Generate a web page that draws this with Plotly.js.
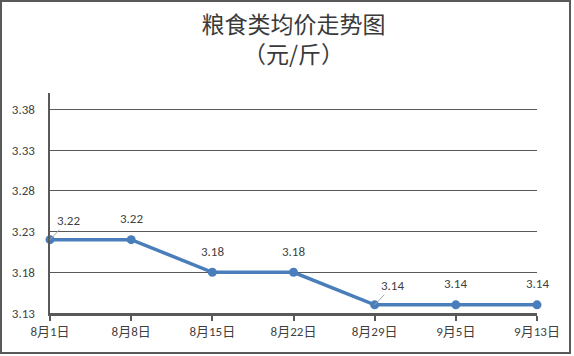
<!DOCTYPE html>
<html>
<head>
<meta charset="utf-8">
<script src="https://cdn.plot.ly/plotly-3.0.1.min.js"></script>
<style>
html,body{margin:0;padding:0;background:#fff;}
#wrap{position:relative;width:574px;height:356px;}
#chart{width:574px;height:356px;}
#frame{position:absolute;left:0;top:0;width:571px;height:354px;box-sizing:border-box;border:2px solid #595959;pointer-events:none;}
</style>
</head>
<body>
<div id="wrap"><div id="chart"></div><div id="frame"></div></div>
<script>
const categories = ['8月1日','8月8日','8月15日','8月22日','8月29日','9月5日','9月13日'];
const prices = [3.22, 3.22, 3.18, 3.18, 3.14, 3.14, 3.14];
const labelText = ['3.22','3.22','3.18','3.18','3.14','3.14','3.14'];
const yTicks = [3.13, 3.18, 3.23, 3.28, 3.33, 3.38];
const leaderIdx = [0, 4];

const txtColor = '#404040';
const fontFam = 'Calibri, Carlito, "Liberation Sans", "Noto Sans CJK SC", sans-serif';

const trace = {
  x: categories.map((c,i)=>i),
  y: prices,
  type: 'scatter',
  mode: 'lines+markers',
  line: {color: '#4A7EBB', width: 3.5},
  marker: {color: '#4A7EBB', size: 9},
  hoverinfo: 'skip',
  cliponaxis: false
};

const annotations = prices.map((v,i)=>{
  if (leaderIdx.includes(i)) {
    return {x: i, y: v, xref:'x', yref:'y', text: labelText[i], showarrow: true,
      arrowhead: 0, arrowwidth: 1, arrowcolor: '#A6A6A6', ax: 18, ay: -19, standoff: 0,
      font: {family: fontFam, size: 13, color: txtColor}};
  }
  return {x: i, y: v, xref:'x', yref:'y', text: labelText[i], showarrow: false,
    yshift: 21, font: {family: fontFam, size: 13, color: txtColor}};
});

const layout = {
  width: 574, height: 356,
  margin: {l: 50, r: 37, t: 93, b: 43, pad: 0},
  paper_bgcolor: '#fff', plot_bgcolor: '#fff',
  showlegend: false,
  title: {
    text: '粮食类均价走势图<br>（元/斤）',
    font: {family: '"Noto Sans CJK SC", sans-serif', size: 23, color: '#3a3a3a'},
    x: 0.5, xanchor: 'center', xref: 'paper',
    y: 1 - 33/356, yanchor: 'middle', yref: 'container'
  },
  xaxis: {
    type: 'linear', range: [0, 6],
    tickmode: 'array', tickvals: categories.map((c,i)=>i), ticktext: categories,
    showgrid: false, zeroline: false,
    showline: true, linecolor: '#595959', linewidth: 2.5,
    ticks: 'outside', ticklen: 5, tickwidth: 2, tickcolor: '#595959',
    tickfont: {family: fontFam, size: 13, color: txtColor},
    fixedrange: true
  },
  yaxis: {
    range: [3.13, 3.40],
    tickmode: 'array', tickvals: yTicks, ticktext: yTicks.map(v=>v.toFixed(2)),
    showgrid: true, gridcolor: '#595959', gridwidth: 1,
    zeroline: false,
    showline: true, linecolor: '#595959', linewidth: 2.5,
    ticks: '', ticklabelstandoff: 10,
    tickfont: {family: fontFam, size: 13, color: txtColor},
    fixedrange: true
  },
  annotations: annotations
};

Plotly.newPlot('chart', [trace], layout, {displayModeBar: false, staticPlot: true});
</script>
</body>
</html>
